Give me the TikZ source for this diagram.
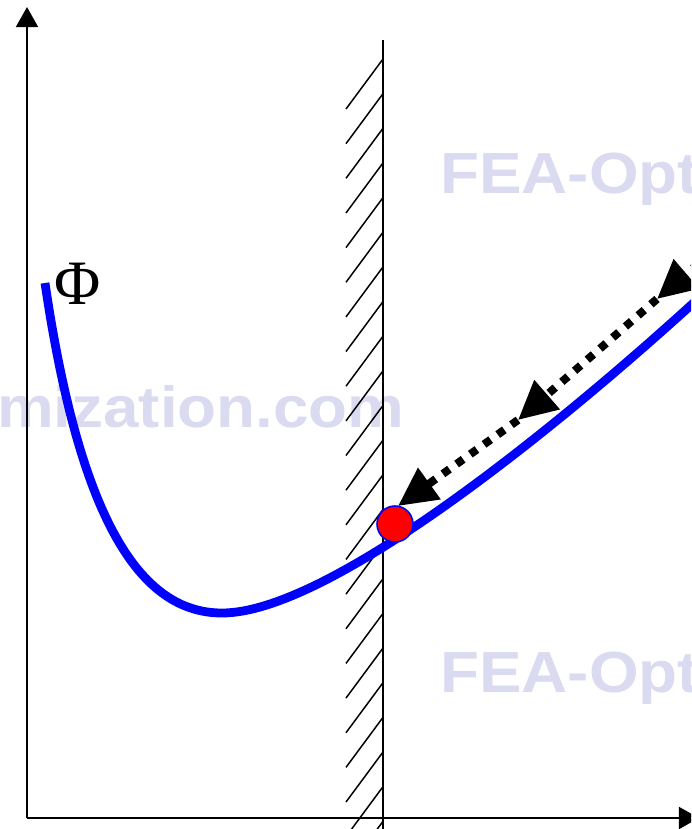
\documentclass[tikz,border=0pt]{standalone}
\usepackage{fontspec}
\newfontfamily\markfont{Liberation Sans}
\newfontfamily\phifont{Liberation Serif}
\usepackage{tikz}
\usetikzlibrary{arrows.meta,calc,positioning}

\begin{document}
\begin{tikzpicture}[x=0.02cm, y=-0.02cm,
  axis/.style={line width=1.4pt, -{Triangle[length=11.5pt, width=12.5pt]}},
  wall/.style={line width=0.9pt},
  hatch/.style={line width=0.85pt},
  curve/.style={draw=blue, line width=5pt},
  stepline/.style={line width=4.6pt, dash pattern=on 4.6pt off 5pt, -{Triangle[length=22pt, width=21pt]}},
  ball/.style={circle, fill=red, draw=blue, line width=0.9pt, minimum size=0.72cm, inner sep=0pt},
  mark text/.style={font=\markfont\bfseries\fontsize{33}{38}\selectfont, text={rgb,255:red,218;green,218;blue,240}, xscale=1.1, inner sep=0pt}
]
\useasboundingbox (0,0) rectangle (691,829);
\clip (0,0) rectangle (691,829);

% watermark
\node[mark text, anchor=base west] (wm1) at (440,193) {FEA-Optimization.com};
\node[mark text, anchor=base east] (wm2) at (405,427) {FEA-Optimization.com};
\node[mark text, anchor=base west] (wm3) at (440,692) {FEA-Optimization.com};

% axes
\coordinate (O) at (27,818);
\coordinate (ytop) at (27,7);
\coordinate (xend) at (699,818);
\draw[axis] (O) -- (ytop);
\draw[axis] (O) -- (xend);

% constraint wall
\coordinate (wtop) at (383,40);
\coordinate (wbot) at (383,835);
\draw[wall] (wtop) -- (wbot);
\foreach \k in {0,...,22}
  \draw[hatch] (383,59+34.65*\k) -- ++(-37,50);

% objective
\coordinate (c0) at (45,283);
\coordinate (cmin) at (222,613);
\coordinate (c1) at (700,297);
\draw[curve] (c0) .. controls (80,520) and (140,613) .. (cmin)
  .. controls (330,613) and (560,425) .. (c1);
\node[font=\phifont\fontsize{36}{40}\selectfont, inner sep=0pt] (phi) at (78,284) {Φ};

% search steps
\node[ball] (ball) at (395,524) {};
\coordinate (s0) at (699,263);
\coordinate (s1) at (657,299);
\coordinate (s2) at (518,420);
\coordinate (s3) at (398,506);
\draw[stepline] (s0) -- (s1);
\draw[stepline] (s1) -- (s2);
\draw[stepline] (s2) -- (s3);
\end{tikzpicture}
\end{document}
